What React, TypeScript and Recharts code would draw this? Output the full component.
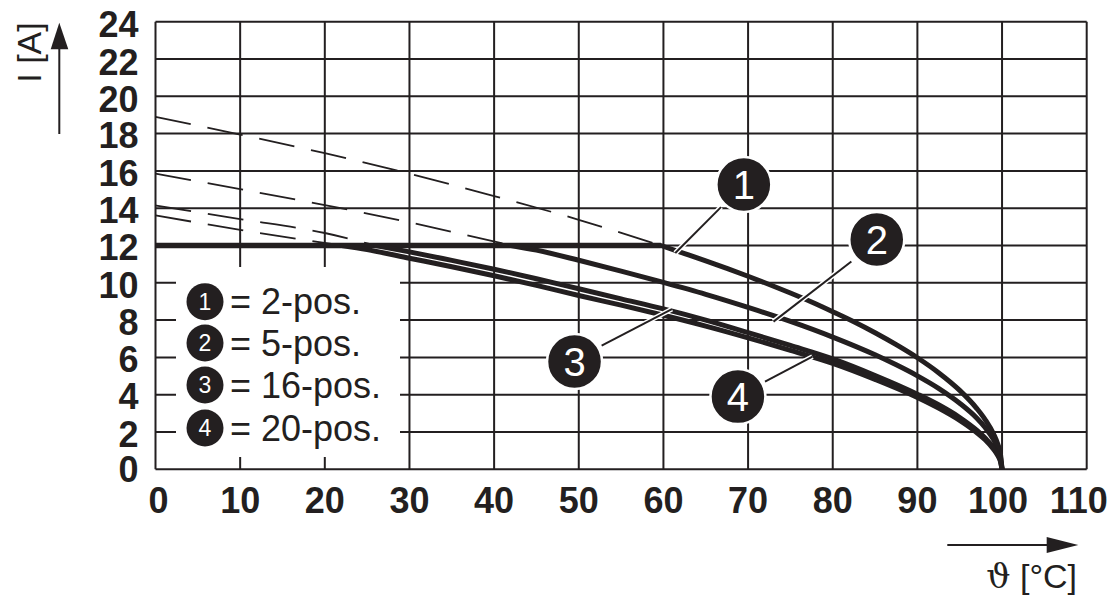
import React from 'react';
import { LineChart, Line, XAxis, YAxis, CartesianGrid, ReferenceDot, ReferenceLine } from 'recharts';

// ---- data ----
const tempTicks = [0, 10, 20, 30, 40, 50, 60, 70, 80, 90, 100, 110];
const currentTicks = [0, 2, 4, 6, 8, 10, 12, 14, 16, 18, 20, 22, 24];

// common 12 A plateau
const plateau = [{ t: 0, i: 12 }, { t: 59.7, i: 12 }];

const curve1Dashed = [
  { t: 0, i: 18.9 }, { t: 10, i: 17.95 }, { t: 20, i: 16.95 }, { t: 30, i: 15.85 },
  { t: 40, i: 14.65 }, { t: 50, i: 13.38 }, { t: 59.7, i: 12 },
];
const curve1Solid = [
  { t: 59.7, i: 12 }, { t: 62.5, i: 11.57 }, { t: 65, i: 11.18 }, { t: 67.5, i: 10.77 },
  { t: 70, i: 10.35 }, { t: 72.5, i: 9.91 }, { t: 75, i: 9.45 }, { t: 77.5, i: 8.97 },
  { t: 80, i: 8.45 }, { t: 82.5, i: 7.91 }, { t: 85, i: 7.32 }, { t: 87.5, i: 6.68 },
  { t: 90, i: 5.98 }, { t: 92.5, i: 5.18 }, { t: 95, i: 4.23 }, { t: 97, i: 3.27 },
  { t: 98, i: 2.67 }, { t: 99, i: 1.89 }, { t: 99.5, i: 1.34 }, { t: 99.8, i: 0.85 }, { t: 100, i: 0 },
];
const curve2Dashed = [
  { t: 0, i: 15.85 }, { t: 10, i: 15.02 }, { t: 20, i: 14.17 }, { t: 30, i: 13.24 }, { t: 42, i: 12 },
];
const curve2Solid = [
  { t: 42, i: 12 }, { t: 45, i: 11.75 }, { t: 50, i: 11.21 }, { t: 55, i: 10.63 }, { t: 60, i: 10.02 },
  { t: 65, i: 9.38 }, { t: 70, i: 8.68 }, { t: 75, i: 7.93 }, { t: 80, i: 7.09 }, { t: 85, i: 6.14 },
  { t: 87.5, i: 5.6 }, { t: 90, i: 5.01 }, { t: 92.5, i: 4.34 }, { t: 95, i: 3.54 }, { t: 97, i: 2.75 },
  { t: 98, i: 2.24 }, { t: 99, i: 1.59 }, { t: 99.5, i: 1.12 }, { t: 99.8, i: 0.71 }, { t: 100, i: 0 },
];
const curve3Dashed = [
  { t: 0, i: 14.15 }, { t: 10, i: 13.42 }, { t: 20, i: 12.67 }, { t: 26, i: 12 },
];
const curve3Solid = [
  { t: 26, i: 12 }, { t: 30, i: 11.66 }, { t: 35, i: 11.2 }, { t: 40, i: 10.73 }, { t: 45, i: 10.22 },
  { t: 50, i: 9.68 }, { t: 55, i: 9.14 }, { t: 60, i: 8.6 }, { t: 65, i: 8.0 }, { t: 70, i: 7.33 },
  { t: 75, i: 6.64 }, { t: 80, i: 5.92 }, { t: 85, i: 5.03 }, { t: 90, i: 4.03 }, { t: 92.5, i: 3.46 },
  { t: 95, i: 2.78 }, { t: 97, i: 2.1 }, { t: 98, i: 1.68 }, { t: 99, i: 1.16 }, { t: 99.5, i: 0.8 },
  { t: 99.8, i: 0.49 }, { t: 100, i: 0 },
];
const curve4Dashed = [
  { t: 0, i: 13.62 }, { t: 10, i: 12.84 }, { t: 22, i: 12 },
];
const curve4Solid = [
  { t: 22, i: 12 }, { t: 25, i: 11.78 }, { t: 30, i: 11.32 }, { t: 35, i: 10.86 }, { t: 40, i: 10.38 },
  { t: 45, i: 9.86 }, { t: 50, i: 9.32 }, { t: 55, i: 8.8 }, { t: 60, i: 8.26 }, { t: 65, i: 7.68 },
  { t: 70, i: 7.05 }, { t: 75, i: 6.38 }, { t: 80, i: 5.68 }, { t: 85, i: 4.82 }, { t: 90, i: 3.85 },
  { t: 92.5, i: 3.28 }, { t: 95, i: 2.62 }, { t: 97, i: 1.97 }, { t: 98, i: 1.58 }, { t: 99, i: 1.07 },
  { t: 99.5, i: 0.73 }, { t: 99.8, i: 0.44 }, { t: 100, i: 0 },
];

const legendLabels = ['= 2-pos.', '= 5-pos.', '= 16-pos.', '= 20-pos.'];
const markerIds = ['1', '2', '3', '4'];
const markerPos = [
  { t: 69.5, i: 15.27 }, { t: 85.2, i: 12.32 }, { t: 49.5, i: 5.78 }, { t: 68.8, i: 3.9 },
];
const leaders = [
  [{ x: 66.8, y: 14.06 }, { x: 61.4, y: 11.6 }],
  [{ x: 82.2, y: 11.14 }, { x: 73.0, y: 7.92 }],
  [{ x: 52.7, y: 6.63 }, { x: 61.0, y: 8.59 }],
  [{ x: 72.0, y: 4.7 }, { x: 77.6, y: 6.04 }],
];

const INK = '#231f20';
const FONT = '"Liberation Sans", Arial, Helvetica, sans-serif';

const W = 1109;
const H = 588;
const SOLID_W = 5;

const XTick = (props: any) => {
  const { x, y, payload } = props;
  const v = payload.value;
  const shift = v === 110 ? -8 : v === 100 ? -4 : v === 0 ? 3 : 0;
  return (
    <text x={x + shift} y={y} dy="0.71em" textAnchor="middle" fontSize={36} fontWeight={700} fill={INK} fontFamily={FONT}>
      {v}
    </text>
  );
};

const YTick = (props: any) => {
  const { x, y, payload } = props;
  const v = payload.value;
  const shift = v === 0 ? 0 : v >= 20 ? 3 : 2;
  return (
    <text x={x} y={y + shift} dy="0.355em" textAnchor="end" fontSize={36} fontWeight={700} fill={INK} fontFamily={FONT}>
      {v}
    </text>
  );
};

const solidLine = (d: any[], key: string) => (
  <Line
    key={key}
    data={d}
    dataKey="i"
    type="monotone"
    stroke={INK}
    strokeWidth={SOLID_W}
    strokeLinejoin="round"
    strokeLinecap="round"
    dot={false}
    activeDot={false}
    isAnimationActive={false}
  />
);

export default function App() {
  return (
    <div style={{ position: 'relative', width: W, height: H, fontFamily: FONT }}>
      <style>{`.recharts-surface{overflow:visible}`}</style>
      <LineChart
        width={W}
        height={H}
        margin={{ top: 13.7, right: W - 1078.7, left: 47.5, bottom: H - 461.3 - 60 }}
      >
        <CartesianGrid stroke={INK} strokeWidth={2} />
        <XAxis
          type="number"
          dataKey="t"
          domain={[0, 110]}
          ticks={tempTicks}
          axisLine={false}
          tickLine={false}
          tickSize={0}
          tickMargin={18}
          height={60}
          tick={<XTick />}
          interval={0}
          allowDataOverflow
        />
        <YAxis
          type="number"
          dataKey="i"
          domain={[0, 24]}
          ticks={currentTicks}
          axisLine={false}
          tickLine={false}
          tickSize={0}
          tickMargin={17}
          width={100}
          tick={<YTick />}
          interval={0}
          allowDataOverflow
        />
        {[curve1Dashed, curve2Dashed, curve3Dashed, curve4Dashed].map((d, k) => (
          <Line
            key={'d' + k}
            data={d}
            dataKey="i"
            type="monotone"
            stroke={INK}
            strokeWidth={1.8}
            strokeDasharray="36 17"
            dot={false}
            activeDot={false}
            isAnimationActive={false}
          />
        ))}
        <Line
          data={plateau}
          dataKey="i"
          type="linear"
          stroke={INK}
          strokeWidth={SOLID_W + 0.5}
          dot={false}
          activeDot={false}
          isAnimationActive={false}
        />
        {solidLine(curve1Solid, 's1')}
        {solidLine(curve2Solid, 's2')}
        {solidLine(curve3Solid, 's3')}
        {solidLine(curve4Solid, 's4')}
        {leaders.map((seg, k) => (
          <ReferenceLine key={'lw' + k} segment={seg} stroke="#fff" strokeWidth={5} />
        ))}
        {leaders.map((seg, k) => (
          <ReferenceLine key={'lb' + k} segment={seg} stroke={INK} strokeWidth={2} />
        ))}
        {markerPos.map((p, k) => (
          <ReferenceDot
            key={'m' + k}
            x={p.t}
            y={p.i}
            r={27.5}
            shape={(props: any) => (
              <g>
                <circle cx={props.cx} cy={props.cy} r={27.5} fill={INK} stroke="#fff" strokeWidth={2.5} />
                <text
                  x={props.cx}
                  y={props.cy + 14}
                  textAnchor="middle"
                  fill="#fff"
                  fontSize={40}
                  fontFamily={FONT}
                >
                  {markerIds[k]}
                </text>
              </g>
            )}
          />
        ))}
      </LineChart>
      <svg
        width={W}
        height={H}
        style={{ position: 'absolute', left: 0, top: 0, pointerEvents: 'none' }}
      >
        {/* legend box */}
        <rect x={168} y={259} width={224} height={190} fill="#fff" />
        {legendLabels.map((lab, k) => {
          const cy = [293.7, 335, 377, 420][k];
          return (
            <g key={'lg' + k}>
              <circle cx={197} cy={cy} r={18.5} fill={INK} />
              <text x={197} y={cy + 8} textAnchor="middle" fill="#fff" fontSize={23} fontFamily={FONT}>
                {markerIds[k]}
              </text>
              <text x={222} y={cy + 12.5} fill={INK} fontSize={36} fontFamily={FONT}>
                {lab}
              </text>
            </g>
          );
        })}
        {/* y axis arrow & title */}
        <line x1={51.3} y1={126} x2={51.3} y2={38} stroke={INK} strokeWidth={2} />
        <polygon points="51.3,14.7 42.7,41.3 60.3,41.3" fill={INK} />
        <text
          x={21}
          y={44.5}
          transform="rotate(-90 21 44.5)"
          textAnchor="middle"
          dominantBaseline="central"
          fill={INK}
          fontSize={34}
          fontFamily={FONT}
        >
          I [A]
        </text>
        {/* x axis arrow & title */}
        <line x1={939.3} y1={537} x2={1042} y2={537} stroke={INK} strokeWidth={2} />
        <polygon points="1070.3,537 1038.7,529 1038.7,545" fill={INK} />
        <text x={1069} y={580} textAnchor="end" fill={INK} fontSize={34} fontFamily={FONT}>
          <tspan fontFamily='"DejaVu Serif", "Liberation Serif", serif'>ϑ</tspan> [°C]
        </text>
      </svg>
    </div>
  );
}
